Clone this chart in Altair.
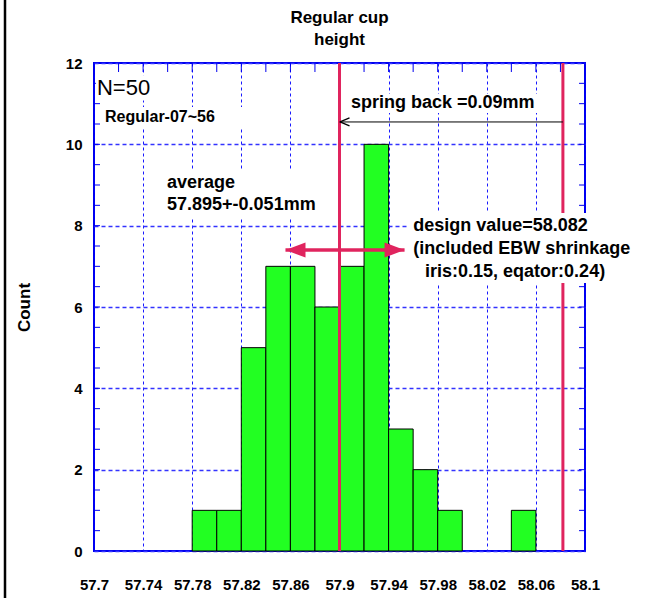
import altair as alt
import pandas as pd

# Cup height histogram: left edges of 0.02 mm bins and counts per bin
bin_left = [57.78, 57.80, 57.82, 57.84, 57.86, 57.88, 57.90,
            57.92, 57.94, 57.96, 57.98, 58.00, 58.02, 58.04]
counts = [1, 1, 5, 7, 7, 6, 7, 10, 3, 2, 1, 0, 0, 1]
bin_width = 0.02

# Vertical reference lines: measured level and design value
ref_lines = [57.9, 58.082]
# spring-back arrow runs from the design value back to the measured level
spring_back = [57.9, 58.082]
spring_back_level = 10.55
# spread arrow around the average
spread = [57.856, 57.953]
spread_level = 7.4

# Axis tick positions
x_ticks = [round(57.70 + 0.02 * i, 2) for i in range(21)]
y_ticks = [0, 2, 4, 6, 8, 10, 12]
y_minor = [i / 2 for i in range(1, 24)]

title_lines = ["Regular cup", "height"]

W, H = 491, 488
FONT = "Liberation Sans"
RED = "#e0245e"
BLUE = "#0000ee"

xs = alt.Scale(domain=[57.7, 58.1], nice=False, zero=False)
ys = alt.Scale(domain=[0, 12], nice=False)

x_axis = alt.Axis(
    values=x_ticks,
    labelExpr="round((datum.value - 57.7) * 50) % 2 == 0 ? format(datum.value, '~g') : ''",
    ticks=False, domain=False, grid=True,
    gridColor="#0000ff", gridDash=[3, 3], gridWidth=1, gridOpacity=0.9,
    labelFont=FONT, labelFontWeight="bold", labelFontSize=15, labelColor="black",
    labelPadding=26, labelOverlap=False, labelFlush=False, title=None,
)
y_axis = alt.Axis(
    values=y_ticks, ticks=False, domain=False, grid=True,
    gridColor="#3333ff", gridDash=[4, 3], gridWidth=1.5,
    labelFont=FONT, labelFontWeight="bold", labelFontSize=15, labelColor="black",
    labelPadding=12,
    title="Count", titleFont=FONT, titleFontWeight="bold", titleFontSize=17,
    titleColor="black", titleX=-70, titleY=H / 2, titleAngle=270,
    titleAlign="center", titleBaseline="middle",
)

hist = pd.DataFrame({"left": bin_left, "count": counts})
bars = (
    alt.Chart(hist)
    .transform_filter("datum.count > 0")
    .transform_calculate(right=f"datum.left + {bin_width}", base="0")
    .mark_bar(color="#22ff22", stroke="black", strokeWidth=1)
    .encode(
        x=alt.X("left:Q", scale=xs, axis=x_axis),
        x2="right:Q",
        y=alt.Y("count:Q", scale=ys, axis=y_axis),
        y2="base:Q",
    )
)

# inward minor ticks on the frame
minor = pd.DataFrame({"v": y_minor})
left_ticks = alt.Chart(minor).mark_rule(color=BLUE, strokeWidth=1).encode(
    y="v:Q", x=alt.value(0), x2=alt.value(6))
right_ticks = alt.Chart(minor).mark_rule(color=BLUE, strokeWidth=1).encode(
    y="v:Q", x=alt.value(W - 6), x2=alt.value(W))
top_ticks = alt.Chart(pd.DataFrame({"v": x_ticks})).mark_rule(color=BLUE, strokeWidth=1).encode(
    x="v:Q", y=alt.value(0), y2=alt.value(9))

red_rules = alt.Chart(pd.DataFrame({"x": ref_lines})).mark_rule(
    color=RED, strokeWidth=3).encode(x="x:Q")

sb = pd.DataFrame({"x": [spring_back[0]], "x2": [spring_back[1]], "y": [spring_back_level]})
sb_line = alt.Chart(sb).mark_rule(color="black", strokeWidth=1).encode(
    x="x:Q", x2="x2:Q", y="y:Q")
sb_head = alt.Chart(sb).mark_point(
    shape="M0.1,0L2,-0.8M0.1,0L2,0.8", size=100, color="black",
    filled=False, strokeWidth=1.3, opacity=1).encode(x="x:Q", y="y:Q")

sp = pd.DataFrame({"x": [spread[0]], "x2": [spread[1]], "y": [spread_level]})
sp_line = alt.Chart(sp).mark_rule(color=RED, strokeWidth=3.5).encode(
    x="x:Q", x2="x2:Q", y="y:Q")
sp_left = alt.Chart(sp).mark_point(
    shape="M0,0L4,-1.5L4,1.5Z", size=100, color=RED, filled=True, opacity=1
).encode(x="x:Q", y="y:Q")
sp_right = alt.Chart(sp).mark_point(
    shape="M0,0L-4,-1.5L-4,1.5Z", size=100, color=RED, filled=True, opacity=1
).encode(x="x2:Q", y="y:Q")

# white backing boxes behind the annotation blocks
boxes = pd.DataFrame({
    "x": [57.7016, 57.7065, 57.9069, 57.7554, 57.9566],
    "x2": [57.7490, 57.8369, 58.0699, 57.8857, 58.1490],
    "y": [11.70, 10.92, 11.24, 9.37, 8.31],
    "y2": [11.08, 10.42, 10.77, 8.21, 6.59],
})
backing = alt.Chart(boxes).mark_rect(color="white").encode(
    x="x:Q", x2="x2:Q", y="y:Q", y2="y2:Q")


def label(text, x, y, size=18, weight="bold"):
    return alt.Chart(pd.DataFrame({"x": [x], "y": [y], "t": [text]})).mark_text(
        align="left", baseline="middle", font=FONT, fontSize=size,
        fontWeight=weight, color="black",
    ).encode(x="x:Q", y="y:Q", text="t:N")


texts = [
    label("N=50", 57.7024, 11.38, size=22, weight="normal"),
    label("Regular-07~56", 57.709, 10.67, size=16),
    label("spring back =0.09mm", 57.9094, 11.02),
    label("average", 57.7595, 9.05),
    label("57.895+-0.051mm", 57.7595, 8.51),
    label("design value=58.082", 57.96, 7.99),
    label("(included EBW shrinkage", 57.96, 7.43),
    label("iris:0.15, eqator:0.24)", 57.9697, 6.86),
]

# chart heading, centred over the plot
heading = alt.Chart(pd.DataFrame({"t": [title_lines]})).mark_text(
    align="center", baseline="middle", font=FONT, fontSize=17, fontWeight="bold",
    color="black", lineHeight=22,
).encode(x=alt.value(W / 2), y=alt.value(-45), text="t")

# slide border on the far left
border = alt.Chart(pd.DataFrame({"k": [0]})).mark_rule(color="black", strokeWidth=2.5).encode(
    x=alt.value(-89), y=alt.value(-63), y2=alt.value(H + 47))

chart = (
    alt.layer(bars, left_ticks, right_ticks, top_ticks, red_rules,
              sb_line, sb_head, sp_line, sp_left, sp_right, backing, border,
              heading, *texts)
    .properties(
        width=W, height=H,
        autosize=alt.AutoSizeParams(type="none"),
        padding={"left": 94, "top": 63, "right": 60, "bottom": 47},
    )
    .configure_view(stroke=BLUE, strokeWidth=2)
)

chart.save("out.html", embed_options={"renderer": "svg", "actions": False})
